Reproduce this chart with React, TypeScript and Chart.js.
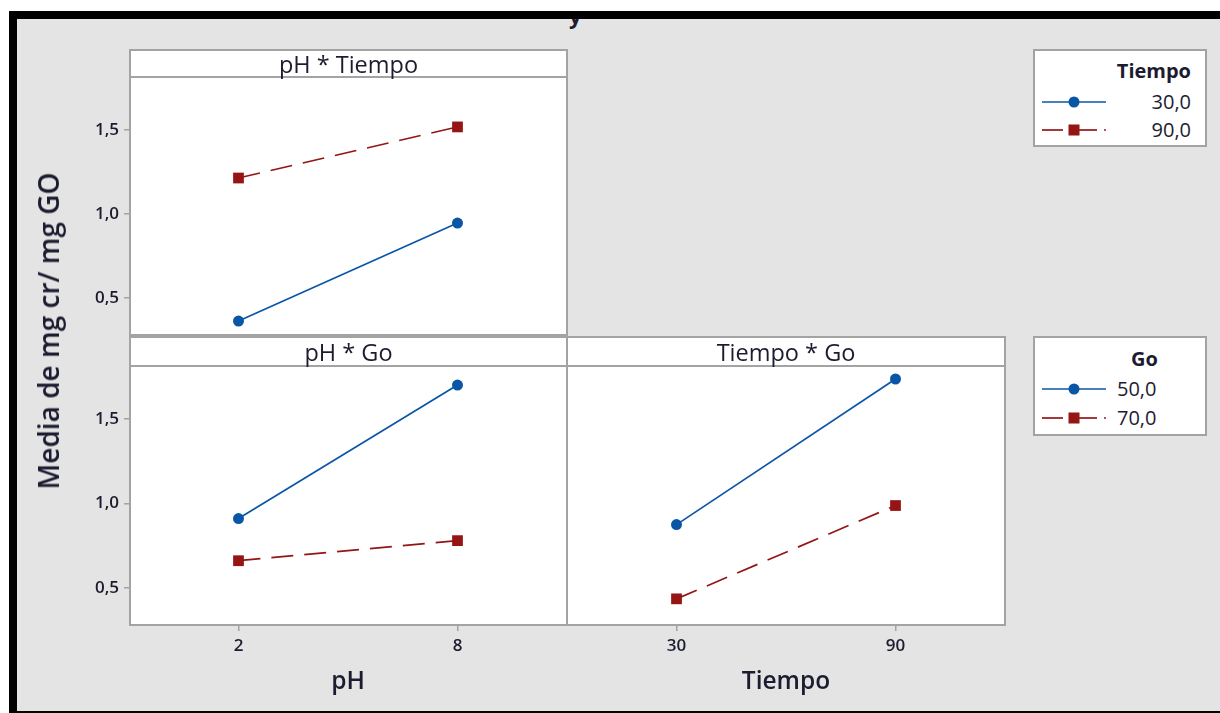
import React, { useEffect, useRef } from "react";
import { Chart, registerables } from "chart.js";
Chart.register(...registerables);

// ---- Data ----
const phLevels = [2, 8];
const tiempoLevels = [30, 90];
const phTiempo30 = [0.363, 0.946];
const phTiempo90 = [1.214, 1.518];
const phGo50 = [0.911, 1.702];
const phGo70 = [0.661, 0.78];
const tiempoGo50 = [0.875, 1.738];
const tiempoGo70 = [0.435, 0.988];
const yTicks = [0.5, 1.0, 1.5];
const phTicks = [2, 8];
const tiempoTicks = [30, 90];
const yRange = [0.28, 1.815];
const phRange = [-1, 11];
const tiempoRange = [0, 120];

const BLUE = "#0a56a6";
const RED = "#951515";
const TEXT = "#1c1c30";
const GRID = "#a3a3a3";
const FONT = "'Open Sans', 'Noto Sans', sans-serif";

const fmt = (v: number) => v.toFixed(1).replace(".", ",");

function series(xs: number[], ys: number[], kind: "blue" | "red") {
  const c = kind === "blue" ? BLUE : RED;
  return {
    data: xs.map((x, i) => ({ x, y: ys[i] })),
    showLine: true,
    borderColor: c,
    backgroundColor: c,
    borderWidth: 1.7,
    borderDash: kind === "blue" ? [] : [22, 11],
    pointStyle: kind === "blue" ? "circle" : "rect",
    pointRadius: kind === "blue" ? 5.5 : 7.6,
    pointBorderWidth: 0,
  };
}

function yScale(display: boolean) {
  return {
    type: "linear",
    position: "left",
    display,
    min: yRange[0],
    max: yRange[1],
    afterBuildTicks: (s: any) => {
      s.ticks = yTicks.map((v) => ({ value: v }));
    },
    afterFit: (s: any) => {
      if (display) s.width = 69;
      s.paddingTop = 0;
      s.paddingBottom = 0;
      s.paddingLeft = 0;
      s.paddingRight = 0;
    },
    grid: { drawOnChartArea: false, drawTicks: true, tickLength: 5, color: GRID, lineWidth: 1.5 },
    border: { display: false },
    ticks: {
      color: TEXT,
      font: { family: FONT, size: 17, weight: "600" },
      padding: 5,
      callback: (v: any) => fmt(Number(v)),
    },
  };
}

function xScale(display: boolean, range: number[], ticks: number[], title: string) {
  return {
    type: "linear",
    position: "bottom",
    display,
    min: range[0],
    max: range[1],
    afterBuildTicks: (s: any) => {
      s.ticks = ticks.map((v) => ({ value: v }));
    },
    afterFit: (s: any) => {
      if (display) s.height = 74;
      s.paddingTop = 0;
      s.paddingBottom = 0;
      s.paddingLeft = 0;
      s.paddingRight = 0;
    },
    grid: { drawOnChartArea: false, drawTicks: true, tickLength: 6, color: GRID, lineWidth: 1.5 },
    border: { display: false },
    ticks: {
      color: TEXT,
      font: { family: FONT, size: 17, weight: "600" },
      padding: 5,
      maxRotation: 0,
      callback: (v: any) => String(v),
    },
    title: {
      display: true,
      text: title,
      color: TEXT,
      font: { family: FONT, size: 24.5, weight: "600" },
      padding: { top: 0, bottom: 2 },
    },
  };
}

function useChart(ref: React.RefObject<HTMLCanvasElement>, cfg: () => any) {
  useEffect(() => {
    if (!ref.current) return;
    const ch = new Chart(ref.current, cfg());
    return () => ch.destroy();
  }, []);
}

const baseOptions = {
  responsive: false,
  animation: false,
  maintainAspectRatio: false,
  layout: { padding: 0, autoPadding: false },
  plugins: { legend: { display: false }, tooltip: { enabled: false }, title: { display: false } },
};

function abs(left: number, top: number, width: number, height: number, extra: any = {}): React.CSSProperties {
  return { position: "absolute", left, top, width, height, boxSizing: "border-box", ...extra };
}

function LegendSymbol({ kind }: { kind: "blue" | "red" }) {
  const c = kind === "blue" ? BLUE : RED;
  return (
    <svg width={70} height={14} style={{ display: "block" }}>
      {kind === "blue" ? (
        <>
          <line x1={1} y1={7} x2={65} y2={7} stroke={c} strokeWidth={1.7} />
          <circle cx={33} cy={7} r={5.5} fill={c} />
        </>
      ) : (
        <>
          <line x1={1} y1={7} x2={22} y2={7} stroke={c} strokeWidth={1.7} />
          <line x1={33} y1={7} x2={56} y2={7} stroke={c} strokeWidth={1.7} />
          <line x1={63} y1={7} x2={65} y2={7} stroke={c} strokeWidth={1.7} />
          <rect x={27.5} y={1.5} width={11} height={11} fill={c} />
        </>
      )}
    </svg>
  );
}

export default function App() {
  const c1 = useRef<HTMLCanvasElement>(null);
  const c2 = useRef<HTMLCanvasElement>(null);
  const c3 = useRef<HTMLCanvasElement>(null);

  useChart(c1, () => ({
    type: "scatter",
    data: { datasets: [series(phLevels, phTiempo30, "blue"), series(phLevels, phTiempo90, "red")] },
    options: {
      ...baseOptions,
      scales: { x: xScale(false, phRange, phTicks, "pH"), y: yScale(true) },
    },
  }));
  useChart(c2, () => ({
    type: "scatter",
    data: { datasets: [series(phLevels, phGo50, "blue"), series(phLevels, phGo70, "red")] },
    options: {
      ...baseOptions,
      scales: { x: xScale(true, phRange, phTicks, "pH"), y: yScale(true) },
    },
  }));
  useChart(c3, () => ({
    type: "scatter",
    data: { datasets: [series(tiempoLevels, tiempoGo50, "blue"), series(tiempoLevels, tiempoGo70, "red")] },
    options: {
      ...baseOptions,
      scales: { x: xScale(true, tiempoRange, tiempoTicks, "Tiempo"), y: yScale(false) },
    },
  }));

  const border = `2px solid ${GRID}`;
  const headerText: React.CSSProperties = {
    display: "flex",
    alignItems: "center",
    justifyContent: "center",
    fontFamily: FONT,
    fontSize: 23.5,
    color: TEXT,
    background: "#fff",
    lineHeight: "26px",
  };
  const legendTxt: React.CSSProperties = { position: "absolute", fontFamily: FONT, fontSize: 20, color: TEXT, lineHeight: "24px" };

  return (
    <div style={{ position: "fixed", left: 0, top: 0, width: 1220, height: 713, background: "#e4e4e4", overflow: "hidden" }}>
      {/* clipped title fragment */}
      <div style={abs(560, 0, 40, 40, { fontFamily: FONT, fontSize: 22, fontWeight: 700, color: TEXT, lineHeight: "26px", paddingLeft: 9, paddingTop: 2 })}>y</div>
      {/* frame */}
      <div style={abs(0, 0, 1220, 11, { background: "#fff" })} />
      <div style={abs(0, 0, 9, 713, { background: "#fff" })} />
      <div style={abs(9, 11, 1211, 8, { background: "#000" })} />
      <div style={abs(9, 11, 8, 702, { background: "#000" })} />
      <div style={abs(9, 711, 1211, 2, { background: "#000" })} />

      {/* plot backgrounds */}
      <div style={abs(129, 77, 438, 258, { background: "#fff" })} />
      <div style={abs(129, 366, 876, 259, { background: "#fff" })} />

      {/* charts */}
      <canvas ref={c1} width={507} height={258} style={abs(60, 77, 507, 258)} />
      <canvas ref={c2} width={507} height={333} style={abs(60, 366, 507, 333)} />
      <canvas ref={c3} width={438} height={333} style={abs(567, 366, 438, 333)} />

      {/* panel headers */}
      <div style={abs(129, 49, 439, 29, { ...headerText, border })}>pH * Tiempo</div>
      <div style={abs(129, 336, 439, 31, { ...headerText, border })}>pH * Go</div>
      <div style={abs(566, 336, 440, 31, { ...headerText, border })}>Tiempo * Go</div>

      {/* panel borders */}
      <div style={abs(129, 49, 439, 287, { border })} />
      <div style={abs(129, 336, 439, 290, { border })} />
      <div style={abs(566, 336, 440, 290, { border })} />

      {/* y title */}
      <div
        style={{
          position: "absolute",
          left: 48,
          top: 331,
          transform: "translate(-50%, -50%) rotate(-90deg)",
          whiteSpace: "nowrap",
          fontFamily: FONT,
          fontSize: 28,
          fontWeight: 600,
          color: TEXT,
        }}
      >
        Media de mg cr/ mg GO
      </div>

      {/* legend 1 */}
      <div style={abs(1033, 49, 174, 98, { background: "#fff", border })}>
        <div style={{ ...legendTxt, right: 14, top: 8, fontWeight: 700, fontSize: 20 }}>Tiempo</div>
        <div style={{ position: "absolute", left: 6, top: 44 }}><LegendSymbol kind="blue" /></div>
        <div style={{ ...legendTxt, right: 14, top: 39 }}>30,0</div>
        <div style={{ position: "absolute", left: 6, top: 72 }}><LegendSymbol kind="red" /></div>
        <div style={{ ...legendTxt, right: 14, top: 67 }}>90,0</div>
      </div>

      {/* legend 2 */}
      <div style={abs(1033, 336, 174, 100, { background: "#fff", border })}>
        <div style={{ ...legendTxt, left: 96, top: 9, fontWeight: 700, fontSize: 20 }}>Go</div>
        <div style={{ position: "absolute", left: 6, top: 44 }}><LegendSymbol kind="blue" /></div>
        <div style={{ ...legendTxt, left: 82, top: 39 }}>50,0</div>
        <div style={{ position: "absolute", left: 6, top: 73 }}><LegendSymbol kind="red" /></div>
        <div style={{ ...legendTxt, left: 82, top: 68 }}>70,0</div>
      </div>
    </div>
  );
}
